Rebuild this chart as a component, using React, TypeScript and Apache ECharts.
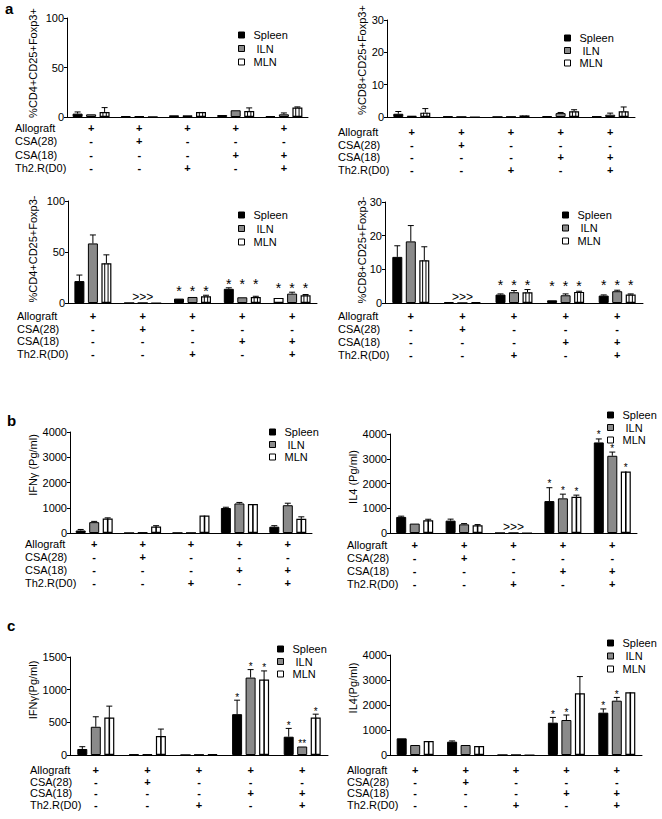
import React, { useEffect, useRef } from 'react';
import * as echarts from 'echarts';

const FONT = "'Liberation Sans', Arial, Helvetica, sans-serif";

// ---- shared categories / condition table ----
const categories = ['G1', 'G2', 'G3', 'G4', 'G5'];
const allograft = ['+', '+', '+', '+', '+'];
const csa28 = ['-', '+', '-', '-', '-'];
const csa18 = ['-', '-', '-', '+', '+'];
const th2r = ['-', '-', '+', '-', '+'];
const rowLabels = ['Allograft', 'CSA(28)', 'CSA(18)', 'Th2.R(D0)'];
const seriesNames = ['Spleen', 'ILN', 'MLN'];

// ---- panel a1: %CD4+CD25+Foxp3+ ----
const a1Spleen = [3.4, 1.0, 1.7, 2.0, 1.0];
const a1SpleenErr = [1.7, 0.2, 0.3, 0.4, 0.3];
const a1ILN = [2.7, 0.9, 1.7, 6.8, 2.7];
const a1ILNErr = [0.4, 0.2, 0.3, 0.4, 1.4];
const a1MLN = [5.1, 0.3, 5.1, 6.1, 9.5];
const a1MLNErr = [4.4, 0.1, 0.4, 3.1, 0.7];

// ---- panel a2: %CD8+CD25+Foxp3+ ----
const a2Spleen = [1.0, 0.2, 0.05, 0.3, 0.2];
const a2SpleenErr = [0.7, 0.1, 0, 0.1, 0.1];
const a2ILN = [0.4, 0.05, 0.1, 1.2, 0.7];
const a2ILNErr = [0.1, 0, 0.05, 0.2, 0.5];
const a2MLN = [1.35, 0, 0.5, 1.75, 1.75];
const a2MLNErr = [1.25, 0, 0.1, 0.5, 1.35];

// ---- panel a3: %CD4+CD25+Foxp3- ----
const a3Spleen = [21.5, 0, 4.3, 13.9, 5.0];
const a3SpleenErr = [5.9, 0, 0.5, 1.0, 0.3];
const a3ILN = [58.4, 0, 5.9, 5.6, 9.2];
const a3ILNErr = [8.3, 0, 0.5, 0.3, 1.4];
const a3MLN = [38.9, 0, 6.6, 5.9, 7.6];
const a3MLNErr = [8.3, 0, 1.0, 0.7, 0.7];
const a3GroupStars = [0, 0, 1, 1, 1];
const a3Notes = [1];

// ---- panel a4: %CD8+CD25+Foxp3- ----
const a4Spleen = [13.7, 0.3, 2.5, 0.8, 2.2];
const a4SpleenErr = [3.3, 0, 0.2, 0.1, 0.2];
const a4ILN = [18.3, 0, 3.2, 2.3, 3.5];
const a4ILNErr = [4.7, 0, 0.5, 0.4, 0.3];
const a4MLN = [12.7, 0.3, 3.2, 3.3, 2.5];
const a4MLNErr = [4.0, 0, 0.8, 0.2, 0.2];
const a4GroupStars = [0, 0, 1, 1, 1];
const a4Notes = [1];

// ---- panel b1: IFNγ (Pg/ml) ----
const b1Spleen = [100, 0, 5, 990, 250];
const b1SpleenErr = [40, 0, 0, 30, 40];
const b1ILN = [430, 20, 5, 1170, 1100];
const b1ILNErr = [30, 0, 0, 40, 80];
const b1MLN = [570, 260, 690, 1150, 560];
const b1MLNErr = [30, 30, 20, 20, 80];

// ---- panel b2: IL4 (Pg/ml) ----
const b2Spleen = [650, 500, 0, 1290, 3660];
const b2SpleenErr = [30, 60, 0, 540, 140];
const b2ILN = [380, 350, 0, 1400, 3120];
const b2ILNErr = [20, 30, 0, 170, 150];
const b2MLN = [515, 310, 0, 1460, 2480];
const b2MLNErr = [40, 30, 0, 70, 20];
const b2SpleenStars = [0, 0, 0, 1, 1];
const b2ILNStars = [0, 0, 0, 1, 1];
const b2MLNStars = [0, 0, 0, 1, 1];
const b2Notes = [2];

// ---- panel c1: IFNγ(Pg/ml) ----
const c1Spleen = [92, 10, 0, 625, 280];
const c1SpleenErr = [35, 0, 0, 214, 127];
const c1ILN = [432, 10, 5, 1185, 130];
const c1ILNErr = [153, 0, 0, 122, 5];
const c1MLN = [575, 290, 10, 1154, 575];
const c1MLNErr = [173, 107, 0, 133, 50];
const c1SpleenStars = [0, 0, 0, 1, 1];
const c1ILNStars = [0, 0, 0, 1, 2];
const c1MLNStars = [0, 0, 0, 1, 1];

// ---- panel c2: IL4(Pg/ml) ----
const c2Spleen = [667, 533, 0, 1293, 1693];
const c2SpleenErr = [20, 30, 0, 210, 150];
const c2ILN = [400, 400, 0, 1400, 2173];
const c2ILNErr = [15, 20, 0, 200, 130];
const c2MLN = [560, 360, 0, 2467, 2507];
const c2MLNErr = [20, 20, 0, 670, 20];
const c2SpleenStars = [0, 0, 0, 1, 1];
const c2ILNStars = [0, 0, 0, 1, 1];
const c2MLNStars = [0, 0, 0, 0, 0];

const BW = 10;
const SP = 13.5;

type Panel = {
  grid: { left: number; top: number; width: number; height: number };
  max: number;
  interval: number;
  vals: number[][];
  errs: number[][];
  yName: string;
  yNameX: number;
  yNameY: number;
  legendLeft: number;
  legendTop: number;
  legendGap: number;
  labelMargin: number;
  lineHeight: number;
  rowLabelX: number;
  stripes: number;
  stripeW: number;
  groupStars?: number[];
  barStars?: number[][];
  starFont: number;
  starOffset: number;
  notes?: number[];
  hollowSpleen?: number[];
};

const panels: Panel[] = [
  {
    grid: { left: 67, top: 18, width: 241, height: 99 }, max: 100, interval: 50,
    vals: [a1Spleen, a1ILN, a1MLN], errs: [a1SpleenErr, a1ILNErr, a1MLNErr],
    yName: '%CD4+CD25+Foxp3+', yNameX: 33, yNameY: 63,
    legendLeft: 238, legendTop: 29.5, legendGap: 2.5, labelMargin: 4.5, lineHeight: 13.3, rowLabelX: 15,
    stripes: 2, stripeW: 1, starFont: 13, starOffset: 5,
  },
  {
    grid: { left: 387, top: 20, width: 248, height: 97 }, max: 30, interval: 10,
    vals: [a2Spleen, a2ILN, a2MLN], errs: [a2SpleenErr, a2ILNErr, a2MLNErr],
    yName: '%CD8+CD25+Foxp3+', yNameX: 362, yNameY: 60,
    legendLeft: 564, legendTop: 32.5, legendGap: 1.5, labelMargin: 8.5, lineHeight: 12.7, rowLabelX: 338,
    stripes: 2, stripeW: 1, starFont: 13, starOffset: 5,
  },
  {
    grid: { left: 68, top: 201, width: 249, height: 102 }, max: 100, interval: 50,
    vals: [a3Spleen, a3ILN, a3MLN], errs: [a3SpleenErr, a3ILNErr, a3MLNErr],
    yName: '%CD4+CD25+Foxp3-', yNameX: 33, yNameY: 249,
    legendLeft: 238, legendTop: 209.5, legendGap: 2.5, labelMargin: 6.5, lineHeight: 12.7, rowLabelX: 17,
    stripes: 2, stripeW: 1, groupStars: a3GroupStars, starFont: 14, starOffset: 4, notes: a3Notes,
    hollowSpleen: [4],
  },
  {
    grid: { left: 385, top: 202, width: 258, height: 101 }, max: 30, interval: 10,
    vals: [a4Spleen, a4ILN, a4MLN], errs: [a4SpleenErr, a4ILNErr, a4MLNErr],
    yName: '%CD8+CD25+Foxp3-', yNameX: 362, yNameY: 250,
    legendLeft: 562, legendTop: 209.5, legendGap: 2, labelMargin: 6.5, lineHeight: 13, rowLabelX: 338,
    stripes: 2, stripeW: 1, groupStars: a4GroupStars, starFont: 14, starOffset: 5, notes: a4Notes,
  },
  {
    grid: { left: 70, top: 432, width: 242, height: 101 }, max: 4000, interval: 1000,
    vals: [b1Spleen, b1ILN, b1MLN], errs: [b1SpleenErr, b1ILNErr, b1MLNErr],
    yName: 'IFNγ (Pg/ml)', yNameX: 33, yNameY: 465,
    legendLeft: 269, legendTop: 426.5, legendGap: 1.5, labelMargin: 4.5, lineHeight: 13, rowLabelX: 25,
    stripes: 1, stripeW: 1.6, starFont: 10, starOffset: 4,
  },
  {
    grid: { left: 390, top: 434, width: 247, height: 99 }, max: 4000, interval: 1000,
    vals: [b2Spleen, b2ILN, b2MLN], errs: [b2SpleenErr, b2ILNErr, b2MLNErr],
    yName: 'IL4 (Pg/ml)', yNameX: 353, yNameY: 477,
    legendLeft: 607, legendTop: 409.5, legendGap: 1.5, labelMargin: 5.5, lineHeight: 13, rowLabelX: 347,
    stripes: 1, stripeW: 1.6, barStars: [b2SpleenStars, b2ILNStars, b2MLNStars], starFont: 10, starOffset: 4,
    notes: b2Notes,
  },
  {
    grid: { left: 70, top: 657, width: 258, height: 98 }, max: 1500, interval: 500,
    vals: [c1Spleen, c1ILN, c1MLN], errs: [c1SpleenErr, c1ILNErr, c1MLNErr],
    yName: 'IFNγ(Pg/ml)', yNameX: 33, yNameY: 690,
    legendLeft: 277, legendTop: 643.5, legendGap: 1.5, labelMargin: 9, lineHeight: 11.7, rowLabelX: 30,
    stripes: 1, stripeW: 1.6, barStars: [c1SpleenStars, c1ILNStars, c1MLNStars], starFont: 10, starOffset: 3,
  },
  {
    grid: { left: 390, top: 655, width: 252, height: 100 }, max: 4000, interval: 1000,
    vals: [c2Spleen, c2ILN, c2MLN], errs: [c2SpleenErr, c2ILNErr, c2MLNErr],
    yName: 'IL4(Pg/ml)', yNameX: 353, yNameY: 688,
    legendLeft: 607, legendTop: 637.5, legendGap: 2, labelMargin: 9, lineHeight: 11.7, rowLabelX: 347,
    stripes: 1, stripeW: 1.6, barStars: [c2SpleenStars, c2ILNStars, c2MLNStars], starFont: 10, starOffset: 3,
  },
];

function txt(text: string, x: number, y: number, fontSize: number, align = 'center', vAlign = 'middle', extra: any = {}) {
  return {
    type: 'text',
    style: {
      text, x, y, fontSize, fontFamily: FONT, fill: '#000',
      align, verticalAlign: vAlign, textAlign: align, textVerticalAlign: vAlign, ...extra,
    },
  };
}

function makeRender(p: Panel) {
  return (params: any, api: any) => {
    const i = api.value(0);
    const base = api.coord([i, 0]);
    const bx = base[0];
    const by = base[1];
    const ch: any[] = [];
    let groupTop = by;
    const lineEl = (x1: number, y1: number, x2: number, y2: number, w = 1) => ({
      type: 'line', shape: { x1, y1, x2, y2 }, style: { stroke: '#000', lineWidth: w },
    });
    for (let k = 0; k < 3; k++) {
      const v = p.vals[k][i];
      const e = p.errs[k][i];
      const cx = bx + (k - 1) * SP;
      const yTop = api.coord([i, v])[1];
      const yErr = api.coord([i, v + e])[1];
      if (k === 2 && by - yTop > 1.5) {
        for (let s = 1; s <= p.stripes; s++) {
          const x = cx - BW / 2 + (BW * s) / (p.stripes + 1);
          ch.push(lineEl(x, yTop, x, by, p.stripeW));
        }
      }
      if (e > 0 && yTop - yErr > 0.6) {
        ch.push(lineEl(cx, yTop, cx, yErr));
        ch.push(lineEl(cx - 3, yErr, cx + 3, yErr));
      }
      groupTop = Math.min(groupTop, yErr, yTop);
      if (p.barStars) {
        const n = p.barStars[k][i];
        if (n > 0) ch.push(txt('*'.repeat(n), cx, yErr - p.starOffset, p.starFont));
      }
    }
    if (p.groupStars && p.groupStars[i]) {
      for (let k = 0; k < 3; k++) {
        ch.push(txt('*', bx + (k - 1) * SP, groupTop - p.starOffset, p.starFont));
      }
    }
    if (p.notes && p.notes.indexOf(i) >= 0) {
      ch.push(txt('>>>', bx, by - 6, 12));
    }
    return { type: 'group', children: ch };
  };
}

function buildOption() {
  const grid: any[] = [];
  const xAxis: any[] = [];
  const yAxis: any[] = [];
  const series: any[] = [];
  const legend: any[] = [];
  const graphic: any[] = [];

  const styles = [
    { color: '#000', borderColor: '#000', borderWidth: 1 },
    { color: '#8a8a8a', borderColor: '#000', borderWidth: 1 },
    { color: '#fff', borderColor: '#000', borderWidth: 1.2 },
  ];

  panels.forEach((p, g) => {
    grid.push({ ...p.grid });
    xAxis.push({
      type: 'category', gridIndex: g, data: categories,
      axisLine: { show: true, lineStyle: { color: '#000', width: 1 } },
      axisTick: { show: false },
      axisLabel: {
        interval: 0, margin: p.labelMargin, fontSize: 11, fontWeight: 'bold', color: '#000',
        fontFamily: FONT, lineHeight: p.lineHeight,
        formatter: (_v: string, i: number) => [allograft[i], csa28[i], csa18[i], th2r[i]].join('\n'),
      },
      splitLine: { show: false },
    });
    yAxis.push({
      type: 'value', gridIndex: g, min: 0, max: p.max, interval: p.interval,
      axisLine: { show: true, lineStyle: { color: '#000', width: 1 } },
      axisTick: { show: true, length: 3, lineStyle: { color: '#000' } },
      axisLabel: {
        fontSize: 11, color: '#000', fontFamily: FONT, margin: 3,
        formatter: (v: number) => String(v),
      },
      splitLine: { show: false },
    });
    seriesNames.forEach((name, k) => {
      series.push({
        type: 'bar', name, xAxisIndex: g, yAxisIndex: g,
        barWidth: BW, barGap: '35%', silent: true,
        itemStyle: styles[k],
        data: p.vals[k].map((v, i) =>
          k === 0 && p.hollowSpleen && p.hollowSpleen.indexOf(i) >= 0
            ? { value: v, itemStyle: { color: '#fff', borderColor: '#000', borderWidth: 1.2 } }
            : v),
      });
    });
    series.push({
      type: 'custom', xAxisIndex: g, yAxisIndex: g, silent: true, clip: false, z: 5,
      data: categories.map((_c, i) => [i, 0]),
      encode: { x: 0, y: 1 },
      renderItem: makeRender(p),
    });
    legend.push({
      data: seriesNames, orient: 'vertical', left: p.legendLeft, top: p.legendTop, padding: 0,
      itemWidth: 6, itemHeight: 6, itemGap: p.legendGap, icon: 'rect', selectedMode: false,
      itemStyle: { borderColor: '#000', borderWidth: 1 },
      formatter: (name: string) => (name === 'ILN' ? '{s|ILN}' : name),
      textStyle: {
        fontSize: 11, color: '#000', fontFamily: FONT, padding: [0, 0, 0, 4],
        rich: { s: { fontSize: 11, color: '#000', fontFamily: FONT, padding: [0, 0, 0, 3] } },
      },
    });
    // row labels
    graphic.push({
      type: 'text', left: p.rowLabelX, top: p.grid.top + p.grid.height + p.labelMargin,
      style: {
        text: rowLabels.join('\n'), fontSize: 11, fontFamily: FONT, fill: '#000',
        lineHeight: p.lineHeight,
      },
    });
    // y axis name
    graphic.push({
      type: 'text', x: p.yNameX, y: p.yNameY, rotation: Math.PI / 2,
      style: {
        text: p.yName, fontSize: 11, fontFamily: FONT, fill: '#000',
        align: 'center', verticalAlign: 'middle', textAlign: 'center', textVerticalAlign: 'middle',
      },
    });
  });

  [['a', 5, 16], ['b', 7, 428], ['c', 7, 633]].forEach(([t, x, y]) => {
    graphic.push({
      type: 'text', x, y,
      style: {
        text: t, fontSize: 15, fontWeight: 'bold', fontFamily: FONT, fill: '#000',
        align: 'left', verticalAlign: 'bottom', textAlign: 'left', textVerticalAlign: 'bottom',
      },
    });
  });

  return {
    animation: false,
    backgroundColor: '#fff',
    grid, xAxis, yAxis, series, legend, graphic,
  };
}

export default function App() {
  const ref = useRef<HTMLDivElement>(null);
  useEffect(() => {
    const chart = echarts.init(ref.current!, null, { renderer: 'svg' });
    chart.setOption(buildOption() as any);
    return () => chart.dispose();
  }, []);
  return (
    <div
      ref={ref}
      style={{ position: 'absolute', left: 0, top: 0, width: 662, height: 819, background: '#fff' }}
    />
  );
}
